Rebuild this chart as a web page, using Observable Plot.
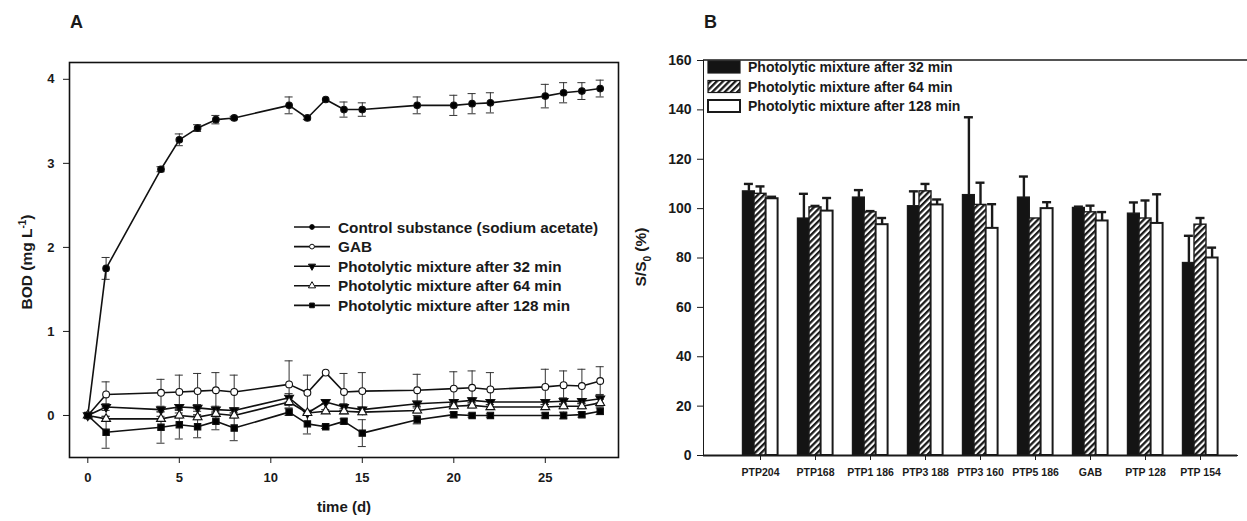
<!DOCTYPE html>
<html>
<head>
<meta charset="utf-8">
<script src="https://cdn.jsdelivr.net/npm/d3@7"></script>
<script src="https://cdn.jsdelivr.net/npm/@observablehq/plot@0.6"></script>
<style>
  html, body { margin: 0; padding: 0; background: #fff; overflow: hidden; }
  #wrap { position: relative; width: 1247px; height: 521px; background: #fff; }
  #wrap > div, #wrap > svg { position: absolute; top: 0; }
  #panelA { left: 0; }
  #panelB { left: 640px; }
  #overlay { left: 0; pointer-events: none; }
  #panelB g[aria-label^="x-axis"] text { font-size: 10.5px; }
</style>
</head>
<body>
<div id="wrap">
  <div id="panelA"></div>
  <div id="panelB"></div>
  <svg id="overlay" width="1247" height="521"></svg>
</div>
<script>
const FONT = '"Liberation Sans", Arial, Helvetica, sans-serif';

// ---------- Panel A data ----------
const times = [0, 1, 4, 5, 6, 7, 8, 11, 12, 13, 14, 15, 18, 20, 21, 22, 25, 26, 27, 28];
const controlBOD = [0, 1.75, 2.93, 3.28, 3.42, 3.52, 3.54, 3.69, 3.54, 3.76, 3.64, 3.64, 3.69, 3.69, 3.71, 3.72, 3.80, 3.84, 3.86, 3.89];
const controlErr = [0, 0.13, 0.03, 0.07, 0.04, 0.05, 0.02, 0.10, 0.02, 0, 0.09, 0.08, 0.10, 0.12, 0.12, 0.12, 0.14, 0.12, 0.10, 0.10];
const gabBOD = [0, 0.25, 0.27, 0.28, 0.29, 0.30, 0.28, 0.37, 0.27, 0.51, 0.28, 0.29, 0.30, 0.32, 0.33, 0.31, 0.34, 0.36, 0.35, 0.41];
const gabErr = [0, 0.15, 0.16, 0.20, 0.21, 0.21, 0.20, 0.28, 0.21, 0, 0.22, 0.22, 0.19, 0.20, 0.20, 0.20, 0.21, 0.17, 0.20, 0.17];
const p32BOD = [0, 0.10, 0.07, 0.10, 0.09, 0.07, 0.06, 0.21, 0.03, 0.16, 0.10, 0.07, 0.14, 0.16, 0.18, 0.16, 0.16, 0.17, 0.17, 0.20];
const p32Err = [0, 0.04, 0.03, 0.03, 0.04, 0.04, 0.03, 0.05, 0.02, 0.02, 0.04, 0.03, 0.03, 0.03, 0.03, 0.03, 0.03, 0.04, 0.03, 0.05];
const p64BOD = [0, -0.04, -0.04, 0, -0.02, 0.02, 0, 0.16, 0.03, 0.05, 0.05, 0.04, 0.06, 0.11, 0.12, 0.10, 0.10, 0.11, 0.11, 0.15];
const p64Err = [0, 0.03, 0.03, 0.03, 0.03, 0.03, 0.03, 0.04, 0.02, 0.02, 0.03, 0.03, 0.03, 0.03, 0.03, 0.03, 0.03, 0.03, 0.03, 0.04];
const p128BOD = [0, -0.20, -0.14, -0.11, -0.135, -0.07, -0.15, 0.04, -0.10, -0.135, -0.07, -0.21, -0.05, 0.01, 0, 0, 0, 0, 0.01, 0.05];
const p128Err = [0, 0.19, 0.19, 0.17, 0.13, 0.10, 0.15, 0.04, 0.12, 0.02, 0.03, 0.16, 0.05, 0.03, 0.02, 0.02, 0.03, 0.04, 0.03, 0.04];
const seriesNamesA = ["Control substance (sodium acetate)", "GAB", "Photolytic mixture after 32 min", "Photolytic mixture after 64 min", "Photolytic mixture after 128 min"];
const xTicksA = [0, 5, 10, 15, 20, 25];
const yTicksA = [0, 1, 2, 3, 4];

// ---------- Panel B data ----------
const categoriesB = ["PTP204", "PTP168", "PTP1 186", "PTP3 188", "PTP3 160", "PTP5 186", "GAB", "PTP 128", "PTP 154"];
const mean32 = [107, 96, 104.5, 101, 105.5, 104.5, 100.3, 98, 78];
const err32 = [3, 10, 3, 6, 31.5, 8.5, 0.5, 4.5, 11];
const mean64 = [106, 100.5, 98.5, 107, 101.5, 96, 98.5, 96, 93.5];
const err64 = [3, 0.6, 0.5, 3, 9, 0, 2.7, 7.3, 2.7];
const mean128 = [104, 99, 93.5, 101.5, 92, 100, 95, 94, 80];
const err128 = [0.8, 5.3, 2.7, 2.2, 9.8, 2.6, 3.6, 11.8, 4.2];
const seriesNamesB = ["Photolytic mixture after 32 min", "Photolytic mixture after 64 min", "Photolytic mixture after 128 min"];
const yTicksB = [0, 20, 40, 60, 80, 100, 120, 140, 160];

// ---------- Panel A ----------
const styleA = [
  {v: controlBOD, e: controlErr, symbol: "circle", fill: "black", r: 3.3, rotate: 0},
  {v: gabBOD, e: gabErr, symbol: "circle", fill: "white", r: 3.4, rotate: 0},
  {v: p32BOD, e: p32Err, symbol: "triangle", fill: "black", r: 3.3, rotate: 180},
  {v: p64BOD, e: p64Err, symbol: "triangle", fill: "white", r: 3.3, rotate: 0},
  {v: p128BOD, e: p128Err, symbol: "square", fill: "black", r: 3.6, rotate: 0}
];
const rowsA = styleA.flatMap((s, k) => times.map((t, i) => ({t, v: s.v[i], e: s.e[i], name: seriesNamesA[k]})));
const errRowsA = rowsA.filter(d => d.e > 0);

const plotA = Plot.plot({
  width: 640, height: 521,
  marginLeft: 69, marginRight: 22, marginTop: 62, marginBottom: 64,
  style: {fontFamily: FONT, fontWeight: "bold", fontSize: "13px", color: "#1a1a1a", background: "transparent"},
  x: {domain: [-1, 29], ticks: xTicksA, tickFormat: d3.format("d"), tickSize: 6, tickPadding: 9, label: null},
  y: {domain: [-0.5, 4.2], ticks: yTicksA, tickFormat: d3.format("d"), tickSize: 6, tickPadding: 9, label: null},
  marks: [
    Plot.ruleX(errRowsA, {x: "t", y1: d => d.v - d.e, y2: d => d.v + d.e, stroke: "#333", strokeWidth: 1}),
    Plot.ruleY(errRowsA, {y: d => d.v + d.e, x1: d => d.t - 0.22, x2: d => d.t + 0.22, stroke: "#333", strokeWidth: 1}),
    Plot.ruleY(errRowsA, {y: d => d.v - d.e, x1: d => d.t - 0.22, x2: d => d.t + 0.22, stroke: "#333", strokeWidth: 1}),
    Plot.line(rowsA, {x: "t", y: "v", z: "name", stroke: "#111", strokeWidth: 1.6}),
    ...styleA.map((s, k) => Plot.dot(rowsA.filter(d => d.name === seriesNamesA[k]), {
      x: "t", y: "v", symbol: s.symbol, r: s.r, fill: s.fill, stroke: "#111", strokeWidth: 1.1, rotate: s.rotate
    })),
    Plot.frame({stroke: "#111", strokeWidth: 1.6})
  ]
});
document.getElementById("panelA").appendChild(plotA);

// ---------- Panel B ----------
const meansB = [mean32, mean64, mean128];
const errsB = [err32, err64, err128];
const offsetsB = [-11.6, 0, 11.6];
const fillsB = ["#141414", "url(#hatch)", "white"];
const strokeW = [1.2, 1.4, 2];

const barMarks = [];
meansB.forEach((m, k) => {
  const rows = categoriesB.map((c, i) => ({cat: c, v: m[i], e: errsB[k][i]}));
  const er = rows.filter(d => d.e > 0);
  barMarks.push(
    Plot.ruleX(er, {x: "cat", y1: "v", y2: d => d.v + d.e, dx: offsetsB[k], stroke: "#1a1a1a", strokeWidth: 2.4}),
    Plot.tickY(er, {x: "cat", y: d => d.v + d.e, dx: offsetsB[k], stroke: "#1a1a1a", strokeWidth: 2.4, insetLeft: 1.5, insetRight: 1.5})
  );
});
meansB.forEach((m, k) => {
  const rows = categoriesB.map((c, i) => ({cat: c, v: m[i]}));
  barMarks.push(Plot.barY(rows, {x: "cat", y: "v", dx: offsetsB[k], fill: fillsB[k], stroke: "#1a1a1a", strokeWidth: strokeW[k], insetLeft: 0, insetRight: 0}));
});

const plotB = Plot.plot({
  width: 607, height: 521,
  marginLeft: 63, marginRight: 10, marginTop: 60, marginBottom: 66,
  style: {fontFamily: FONT, fontWeight: "bold", fontSize: "14px", color: "#1a1a1a", background: "transparent"},
  x: {type: "band", domain: categoriesB, range: [63, 617], paddingInner: 0.79, paddingOuter: 0.91, tickSize: 5, tickPadding: 8, label: null, line: true},
  y: {domain: [0, 160], ticks: yTicksB, tickFormat: d3.format("d"), tickSize: 6, tickPadding: 6, label: null, line: true},
  marks: [
    ...barMarks,
    Plot.ruleY([0], {stroke: "#1a1a1a", strokeWidth: 2})
  ]
});
document.getElementById("panelB").appendChild(plotB);

// ---------- Overlay: labels, legends, pattern ----------
const svg = d3.select("#overlay").style("font-family", FONT).style("font-weight", "bold").attr("fill", "#1a1a1a");
const defs = svg.append("defs");
const pat = defs.append("pattern").attr("id", "hatch").attr("patternUnits", "userSpaceOnUse")
  .attr("width", 4.4).attr("height", 4.4).attr("patternTransform", "rotate(45)");
pat.append("rect").attr("width", 4.4).attr("height", 4.4).attr("fill", "white");
pat.append("rect").attr("width", 2.3).attr("height", 4.4).attr("fill", "#1a1a1a");

// Panel letters
svg.append("text").attr("x", 70).attr("y", 28).attr("font-size", 18).text("A");
svg.append("text").attr("x", 704).attr("y", 28).attr("font-size", 18).text("B");

// Axis titles A
const ylabA = svg.append("text").attr("transform", "translate(32,262) rotate(-90)").attr("text-anchor", "middle").attr("font-size", 15.5);
ylabA.append("tspan").text("BOD (mg L");
ylabA.append("tspan").attr("dy", -6).attr("font-size", 10).text("-1");
ylabA.append("tspan").attr("dy", 6).text(")");
svg.append("text").attr("x", 344).attr("y", 512).attr("text-anchor", "middle").attr("font-size", 15).text("time (d)");

// Axis title B
const ylabB = svg.append("text").attr("transform", "translate(646,257) rotate(-90)").attr("text-anchor", "middle").attr("font-size", 15.5);
ylabB.append("tspan").text("S/S");
ylabB.append("tspan").attr("dy", 5).attr("font-size", 10).text("0");
ylabB.append("tspan").attr("dy", -5).text(" (%)");

// Legend A
const legA = svg.append("g");
styleA.forEach((s, k) => {
  const y = 227 + k * 19.6;
  legA.append("line").attr("x1", 294).attr("x2", 330).attr("y1", y).attr("y2", y).attr("stroke", "#111").attr("stroke-width", 1.6);
  const typ = s.symbol === "circle" ? d3.symbolCircle : s.symbol === "triangle" ? d3.symbolTriangle : d3.symbolSquare;
  legA.append("path").attr("d", d3.symbol(typ, s.symbol === "circle" ? 18 : 22)())
    .attr("transform", `translate(312,${y}) rotate(${s.rotate})`)
    .attr("fill", s.fill).attr("stroke", "#111").attr("stroke-width", 1);
  legA.append("text").attr("x", 338).attr("y", y).attr("dy", "0.36em").attr("font-size", 15.3).text(seriesNamesA[k]);
});

// Legend B (box border top line)
svg.append("line").attr("x1", 703).attr("x2", 1247).attr("y1", 60).attr("y2", 60).attr("stroke", "#1a1a1a").attr("stroke-width", 1.6);
const legB = svg.append("g");
seriesNamesB.forEach((name, k) => {
  const y = 67 + k * 19.5;
  legB.append("rect").attr("x", 708).attr("y", y - 6).attr("width", 32).attr("height", 12)
    .attr("fill", fillsB[k]).attr("stroke", "#1a1a1a").attr("stroke-width", k === 2 ? 2 : 1.2);
  legB.append("text").attr("x", 748).attr("y", y).attr("dy", "0.36em").attr("font-size", 14).text(name);
});
</script>
</body>
</html>
